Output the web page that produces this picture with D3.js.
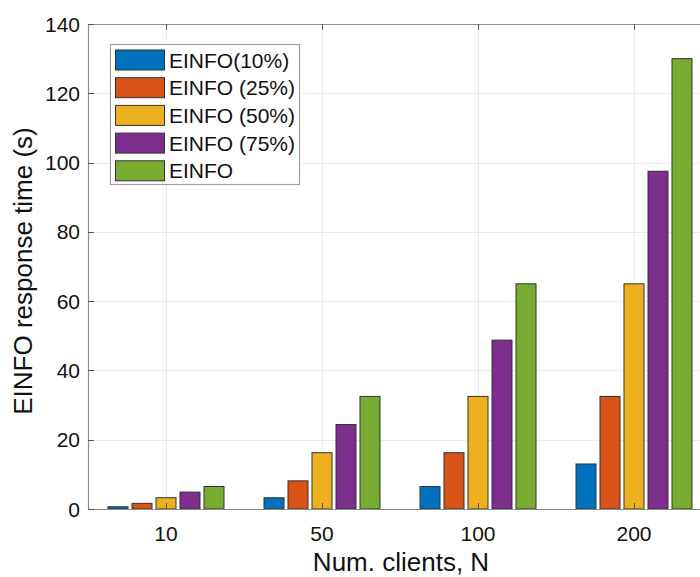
<!DOCTYPE html>
<html>
<head>
<meta charset="utf-8">
<script src="https://cdnjs.cloudflare.com/ajax/libs/d3/7.8.5/d3.min.js"></script>
<style>
  body { margin: 0; background: #fff; }
  svg { display: block; font-family: "Liberation Sans", Arial, sans-serif; }
</style>
</head>
<body>
<div id="chart"></div>
<script>
const categories = ["10", "50", "100", "200"]
const seriesNames = ["EINFO(10%)", "EINFO (25%)", "EINFO (50%)", "EINFO (75%)", "EINFO"]
const einfo10 = [0.65, 3.25, 6.5, 13]
const einfo25 = [1.625, 8.125, 16.25, 32.5]
const einfo50 = [3.25, 16.25, 32.5, 65]
const einfo75 = [4.875, 24.375, 48.75, 97.5]
const einfoFull = [6.5, 32.5, 65, 130]
const yTicks = [0, 20, 40, 60, 80, 100, 120, 140]
const colors = ["#0072BD", "#D95319", "#EDB120", "#7E2F8E", "#77AC30"]

const series = [einfo10, einfo25, einfo50, einfo75, einfoFull]

const W = 700, H = 577
const m = { left: 88, top: 24, bottom: 509, right: 712 }

const svg = d3.select("#chart").append("svg").attr("width", W).attr("height", H)

// categorical positions 1..4 on a linear axis, like matlab
const x = d3.scaleLinear().domain([0.5, 4.5]).range([m.left, m.right])
const y = d3.scaleLinear().domain([0, 140]).range([m.bottom, m.top])

const grid = svg.append("g").attr("stroke", "#ebebeb").attr("stroke-width", 1)
grid.selectAll(".gy").data(yTicks).join("line")
  .attr("x1", m.left).attr("x2", m.right)
  .attr("y1", d => Math.round(y(d)) + 0.5).attr("y2", d => Math.round(y(d)) + 0.5)
grid.selectAll(".gx").data(categories).join("line")
  .attr("x1", (d, i) => Math.round(x(i + 1)) + 0.5).attr("x2", (d, i) => Math.round(x(i + 1)) + 0.5)
  .attr("y1", m.top).attr("y2", m.bottom)

// bars
const barW = 20, step = 24
const bars = svg.append("g")
series.forEach((vals, s) => {
  bars.selectAll(".b" + s).data(vals).join("rect")
    .attr("x", (d, i) => x(i + 1) + (s - 2) * step - barW / 2)
    .attr("y", d => y(d))
    .attr("width", barW)
    .attr("height", d => y(0) - y(d))
    .attr("fill", colors[s])
    .attr("stroke", "#333")
    .attr("stroke-width", 1)
})

// axes box
const ax = svg.append("g").attr("stroke", "#8c8c8c").attr("stroke-width", 1.2).attr("fill", "none")
ax.append("line").attr("x1", m.left).attr("x2", m.right).attr("y1", m.top + 0.5).attr("y2", m.top + 0.5)
ax.append("line").attr("x1", m.left).attr("x2", m.right).attr("y1", m.bottom + 0.5).attr("y2", m.bottom + 0.5)
ax.append("line").attr("x1", m.left + 0.5).attr("x2", m.left + 0.5).attr("y1", m.top).attr("y2", m.bottom)

// tick marks (inward)
const tk = svg.append("g").attr("stroke", "#555").attr("stroke-width", 1)
yTicks.forEach(t => {
  tk.append("line").attr("x1", m.left).attr("x2", m.left + 6)
    .attr("y1", Math.round(y(t)) + 0.5).attr("y2", Math.round(y(t)) + 0.5)
})
categories.forEach((c, i) => {
  const xx = Math.round(x(i + 1)) + 0.5
  tk.append("line").attr("x1", xx).attr("x2", xx).attr("y1", m.bottom).attr("y2", m.bottom - 6)
  tk.append("line").attr("x1", xx).attr("x2", xx).attr("y1", m.top).attr("y2", m.top + 6)
})

// tick labels
svg.append("g").selectAll("text").data(yTicks).join("text")
  .attr("x", m.left - 8).attr("y", d => y(d)).attr("dy", "0.36em")
  .attr("text-anchor", "end").attr("font-size", 21).attr("fill", "#111")
  .text(d => d)
svg.append("g").selectAll("text").data(categories).join("text")
  .attr("x", (d, i) => x(i + 1)).attr("y", m.bottom + 32)
  .attr("text-anchor", "middle").attr("font-size", 21).attr("fill", "#111")
  .text(d => d)

// axis labels
svg.append("text").attr("x", 401).attr("y", 571)
  .attr("text-anchor", "middle").attr("font-size", 26).attr("fill", "#111")
  .text("Num. clients, N")
svg.append("text").attr("transform", "translate(32,271) rotate(-90)")
  .attr("text-anchor", "middle").attr("font-size", 26).attr("fill", "#111")
  .text("EINFO response time (s)")

// legend
const lg = svg.append("g")
lg.append("rect").attr("x", 110.5).attr("y", 44.5).attr("width", 189).attr("height", 140)
  .attr("fill", "#fff").attr("stroke", "#a0a0a0").attr("stroke-width", 1.2)
seriesNames.forEach((n, i) => {
  const yy = 50 + i * 27.7
  lg.append("rect").attr("x", 115.5).attr("y", yy).attr("width", 49).attr("height", 20)
    .attr("fill", colors[i]).attr("stroke", "#333").attr("stroke-width", 1)
  lg.append("text").attr("x", 169).attr("y", yy + 10).attr("dy", "0.36em")
    .attr("font-size", 21).attr("fill", "#111").text(n)
})
</script>
</body>
</html>
